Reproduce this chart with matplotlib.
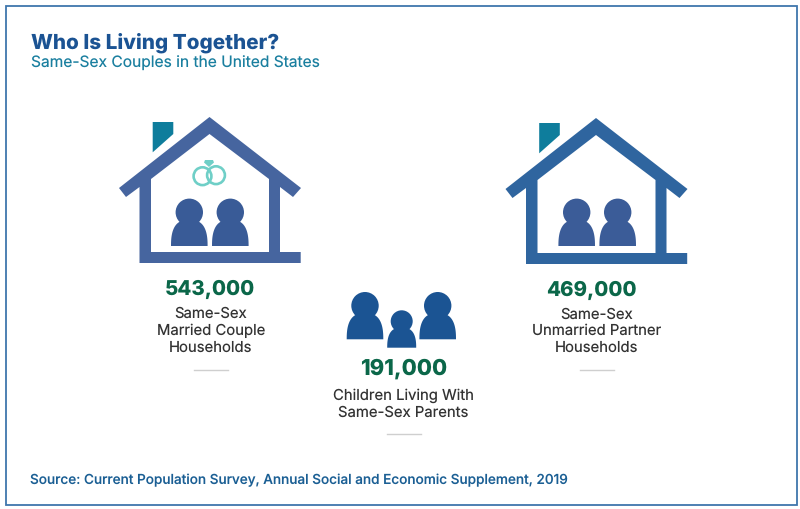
import numpy as np
import matplotlib
matplotlib.use("Agg")
import matplotlib.pyplot as plt
from matplotlib.patches import Circle, PathPatch, Polygon, Rectangle
from matplotlib.path import Path

# values
counts = ["543,000", "469,000", "191,000"]
captions = [
    "Same-Sex\nMarried Couple\nHouseholds",
    "Same-Sex\nUnmarried Partner\nHouseholds",
    "Children Living With\nSame-Sex Parents",
]
title = "Who Is Living Together?"
subtitle = "Same-Sex Couples in the United States"
source = "Source: Current Population Survey, Annual Social and Economic Supplement, 2019"

BLUE_TITLE = "#1b5393"
TEAL_TEXT = "#1a7f9f"
TEAL_CHIM = "#0e7d9c"
GREEN = "#0b6749"
GREY = "#333333"
RING = "#6fcfc7"

plt.rcParams["font.family"] = ["Inter", "DejaVu Sans"]
plt.rcParams["text.hinting"] = "no_hinting"

fig = plt.figure(figsize=(8, 5.1), dpi=100)
ax = fig.add_axes([0, 0, 1, 1])
ax.set_xlim(0, 800)
ax.set_ylim(510, 0)
ax.axis("off")

# outer frame
ax.add_patch(Rectangle((5.5, 7), 791, 499, fill=False, ec="#3f76ad", lw=1.3))


def person(cx, head_y, head_r, body_w, body_h, bottom, color):
    t = np.linspace(0, np.pi, 60)
    xs = cx + body_w * np.sign(np.cos(t)) * np.abs(np.cos(t)) ** 0.7
    ys = bottom - body_h * np.sin(t) ** 0.8
    ax.add_patch(Polygon(np.column_stack([xs, ys]), closed=True, fc=color, ec="none"))
    ax.add_patch(Circle((cx, head_y), head_r, fc=color, ec="none"))


def house(dx, dy, color):
    outer = [(209.5, 118), (301, 189), (293, 198), (280, 188), (280, 253), (300.7, 253),
             (300.7, 264), (139.5, 264), (139.5, 188), (126, 198), (119, 189)]
    inner = [(209.5, 135), (151, 180), (151, 253), (269, 253), (269, 180)]
    verts, codes = [], []
    for ring in (outer, inner):
        verts += [(x + dx, y + dy) for x, y in ring] + [(0, 0)]
        codes += [Path.MOVETO] + [Path.LINETO] * (len(ring) - 1) + [Path.CLOSEPOLY]
    ax.add_patch(PathPatch(Path(verts, codes), fc=color, ec="none"))
    chimney = [(152.7, 123), (173.3, 123), (173.3, 135), (152.7, 153.3)]
    ax.add_patch(Polygon([(x + dx, y + dy) for x, y in chimney], closed=True, fc=TEAL_CHIM, ec="none"))


house(0, 0, "#46659f")
house(386.5, 1, "#2f659f")

for cx in (189.3, 230.3):
    person(cx, 213.3, 13.7, 18.3, 26, 247, "#395b97")
for cx in (576.7, 617.7):
    person(cx, 213.3, 13.7, 18.3, 26, 247, "#3b5c98")

# wedding rings
ax.add_patch(Circle((202.5, 177.2), 8.9, fill=False, ec=RING, lw=1.9))
ax.add_patch(Circle((216, 176.2), 8.9, fill=False, ec=RING, lw=1.9))
ax.add_patch(Polygon([(205, 161), (213, 161), (214, 163.5), (209, 168), (204, 163.5)],
                     closed=True, fc=RING, ec="none"))

# family
person(365, 306.7, 13.7, 18.3, 26, 340.3, "#1b5493")
person(437.7, 306.7, 13.7, 18.3, 26, 340.3, "#1b5493")
person(401.7, 322.3, 11, 14.5, 20, 348.7, "#1b5493")

# headings
ax.text(31, 43, title, fontsize=14.9, fontweight="heavy", color=BLUE_TITLE, va="center", ha="left")
ax.text(31, 63, subtitle, fontsize=11.2, color=TEAL_TEXT, va="center", ha="left")

# counts and captions
count_x = [210, 591.5, 403.5]
count_y = [290, 290, 369]
count_size = [14.7, 14.7, 15.8]
cap_x = [211, 597, 403.5]
cap_y = [331, 331, 404]
rule_y = [371, 371, 435]
rule_x = [194, 580, 387]
for i in range(3):
    ax.text(count_x[i], count_y[i], counts[i], fontsize=count_size[i], fontweight="heavy", color=GREEN,
            ha="center", va="center")
    ax.text(cap_x[i], cap_y[i], captions[i], fontsize=10.7, color=GREY, ha="center", va="center",
            linespacing=1.22)
    ax.plot([rule_x[i], rule_x[i] + 34], [rule_y[i], rule_y[i]], color="#cfcfcf", lw=1)

ax.text(29.5, 480.5, source, fontsize=9.79, fontweight="medium", color="#1b5f94", va="center", ha="left")

fig.savefig("out.png", dpi=100)
